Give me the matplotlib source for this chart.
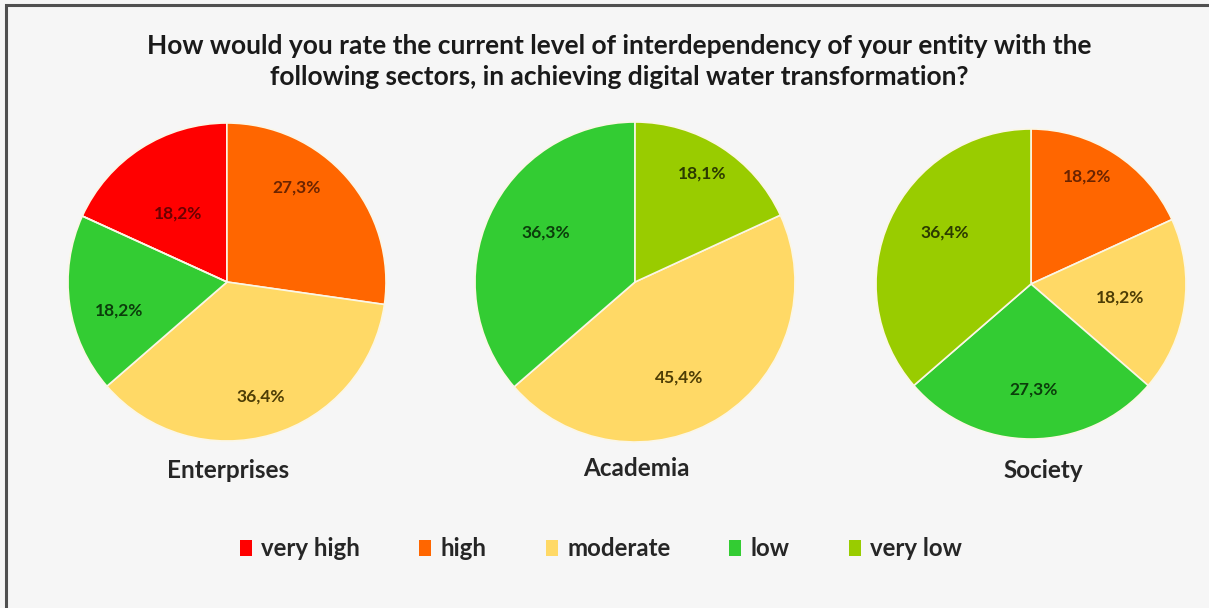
import matplotlib
matplotlib.use("Agg")
import matplotlib.pyplot as plt
from matplotlib.patches import Rectangle, Patch
import numpy as np

# ---------------- data ----------------
title = ("How would you rate the current level of interdependency of your entity with the\n"
         "following sectors, in achieving digital water transformation?")
levels = ["very high", "high", "moderate", "low", "very low"]
sectors = ["Enterprises", "Academia", "Society"]
enterprises = [18.2, 27.3, 36.4, 18.2, 0.0]
academia = [0.0, 0.0, 45.4, 36.3, 18.1]
society = [0.0, 18.2, 18.2, 27.3, 36.4]
values = [enterprises, academia, society]

# ---------------- styles ----------------
colors = ["#ff0000", "#ff6600", "#ffd966", "#33cc33", "#99cc00"]
label_colors = ["#6b0000", "#6b2400", "#4d3d05", "#0b3d0b", "#2b3a00"]
FONT = "Lato"
W, H = 1209, 608

centers = [(227, H - 282), (635, H - 282), (1031, H - 284)]
radii = [159, 160, 155]
startangles = [155.5, 24.7, 90]
# label placement: fraction of radius and angle offset from wedge middle
lab_frac = [[0.53, 0.74, 0.75, 0.70, 0.7],
            [0.7, 0.7, 0.66, 0.64, 0.80],
            [0.7, 0.78, 0.58, 0.68, 0.65]]
lab_off = [[2.7, 12.7, -0.1, 6.7, 0],
           [0, 0, -8.0, -4.6, 1.0],
           [0, 5.2, -0.6, 1.3, -6.4]]
title_pos = [(228, H - 470), (636, H - 468), (1043, H - 470)]

fig = plt.figure(figsize=(W / 100, H / 100), dpi=100)
fig.patch.set_facecolor("#f6f6f6")
ax = fig.add_axes([0, 0, 1, 1])
ax.set_facecolor("#f6f6f6")

for i, vals in enumerate(values):
    wedges, _ = ax.pie(vals, colors=colors, startangle=startangles[i], counterclock=False,
                       center=centers[i], radius=radii[i], frame=True,
                       wedgeprops=dict(edgecolor="#fbf6e6", linewidth=1.2))
    cx, cy = centers[i]
    r = radii[i]
    for j, w in enumerate(wedges):
        if vals[j] <= 0:
            continue
        th = np.deg2rad((w.theta1 + w.theta2) / 2 + lab_off[i][j])
        d = lab_frac[i][j] * r
        ax.text(cx + d * np.cos(th), cy + d * np.sin(th),
                f"{vals[j]:.1f}%".replace(".", ","), ha="center", va="center",
                fontsize=12.5, fontweight="bold", family=FONT, color=label_colors[j])
    ax.text(title_pos[i][0], title_pos[i][1], sectors[i], ha="center", va="center",
            fontsize=17.5, fontweight="bold", family=FONT, color="#262626")

ax.set_xlim(0, W)
ax.set_ylim(0, H)
ax.set_aspect("equal")
ax.axis("off")

# frame line (left/top visible)
ax.add_patch(Rectangle((6, -40), W + 200, H - 5 + 40, fill=False,
                       edgecolor="#505050", linewidth=2.2, clip_on=False))

fig.text(619 / W, 1 - 61.5 / H, title, ha="center", va="center", fontsize=19,
         fontweight="bold", family=FONT, color="#1a1a1a", linespacing=1.32)

handles = [Patch(facecolor=c, edgecolor="none", label=l) for c, l in zip(colors, levels)]
leg = ax.legend(handles=handles, loc="center", bbox_to_anchor=(601 / W, 1 - 549 / H),
                ncol=5, frameon=False, handlelength=0.5, handleheight=0.6,
                handletextpad=0.4, columnspacing=2.45,
                prop=dict(family=FONT, weight="bold", size=17.3))
for t in leg.get_texts():
    t.set_color("#262626")

fig.savefig("out.png", dpi=100, facecolor=fig.get_facecolor())
